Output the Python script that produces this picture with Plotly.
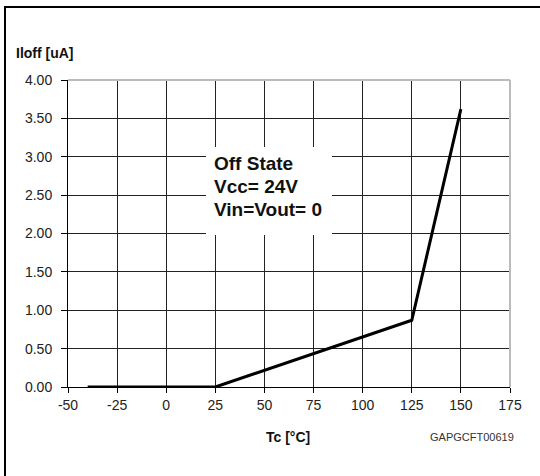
import plotly.graph_objects as go

temps = [-40, 25, 125, 150]
iloff = [0.0, 0.0, 0.87, 3.62]
x_ticks = [-50, -25, 0, 25, 50, 75, 100, 125, 150, 175]
y_ticks = [0.0, 0.5, 1.0, 1.5, 2.0, 2.5, 3.0, 3.5, 4.0]
note_lines = ["Off State", "Vcc= 24V", "Vin=Vout= 0"]

W, H = 540, 476
L, R, T, B = 68, 30, 80, 89
pw, ph = W - L - R, H - T - B

def px(x):
    return (x - L) / pw

def py(y):
    return (H - B - y) / ph

FONT = "Liberation Sans, Arial, sans-serif"

fig = go.Figure()
fig.add_trace(go.Scatter(x=temps, y=iloff, mode="lines",
                         line=dict(color="black", width=3), showlegend=False))

annotations = [
    dict(text="<b>Iloff [uA]</b>", xref="paper", yref="paper", x=px(14), y=py(53),
         xanchor="left", yanchor="middle", showarrow=False,
         font=dict(size=14, color="#111")),
    dict(text="<b>Tc [°C]</b>", xref="paper", yref="paper", x=px(288), y=py(437),
         xanchor="center", yanchor="middle", showarrow=False,
         font=dict(size=14, color="#111")),
    dict(text="GAPGCFT00619", xref="paper", yref="paper", x=px(516), y=py(437),
         xanchor="right", yanchor="middle", showarrow=False,
         font=dict(size=11, color="#333")),
]
for i, line in enumerate(note_lines):
    annotations.append(dict(text=f"<b>{line}</b>", xref="paper", yref="paper",
                            x=px(212), y=py(163 + 23 * i), xanchor="left", yanchor="middle",
                            showarrow=False, font=dict(size=19, color="#111")))

fig.update_layout(
    width=W, height=H,
    margin=dict(l=L, r=R, t=T, b=B),
    paper_bgcolor="white", plot_bgcolor="white",
    font=dict(family=FONT, size=14, color="#222"),
    xaxis=dict(range=[-50, 175], tickvals=x_ticks, ticktext=[str(v) for v in x_ticks],
               showgrid=True, gridcolor="#222", gridwidth=1,
               showline=True, linecolor="black", linewidth=1,
               ticks="outside", ticklen=5, tickcolor="black",
               zeroline=False, fixedrange=True, tickfont=dict(size=14)),
    yaxis=dict(range=[0, 4], tickvals=y_ticks, ticktext=[f"{v:.2f}" for v in y_ticks],
               showgrid=True, gridcolor="#222", gridwidth=1,
               showline=True, linecolor="black", linewidth=1,
               ticks="outside", ticklen=6, tickcolor="black", ticklabelstandoff=6,
               zeroline=False, fixedrange=True, tickfont=dict(size=14)),
    shapes=[
        # light gray top & right plot borders
        dict(type="line", xref="paper", yref="paper", x0=0, x1=1, y0=1, y1=1,
             line=dict(color="#bbbbbb", width=2)),
        dict(type="line", xref="paper", yref="paper", x0=1, x1=1, y0=0, y1=1,
             line=dict(color="#bbbbbb", width=2)),
        # white box behind note
        dict(type="rect", xref="paper", yref="paper", x0=px(206), x1=px(332),
             y0=py(235), y1=py(147), fillcolor="white", line=dict(width=0), layer="above"),
        # figure frame (top and left)
        dict(type="line", xref="paper", yref="paper", x0=px(4), x1=px(541), y0=py(7), y1=py(7),
             line=dict(color="black", width=2)),
        dict(type="line", xref="paper", yref="paper", x0=px(5), x1=px(5), y0=py(6), y1=py(477),
             line=dict(color="black", width=2)),
    ],
    annotations=annotations,
)

fig.write_html("out.html")
